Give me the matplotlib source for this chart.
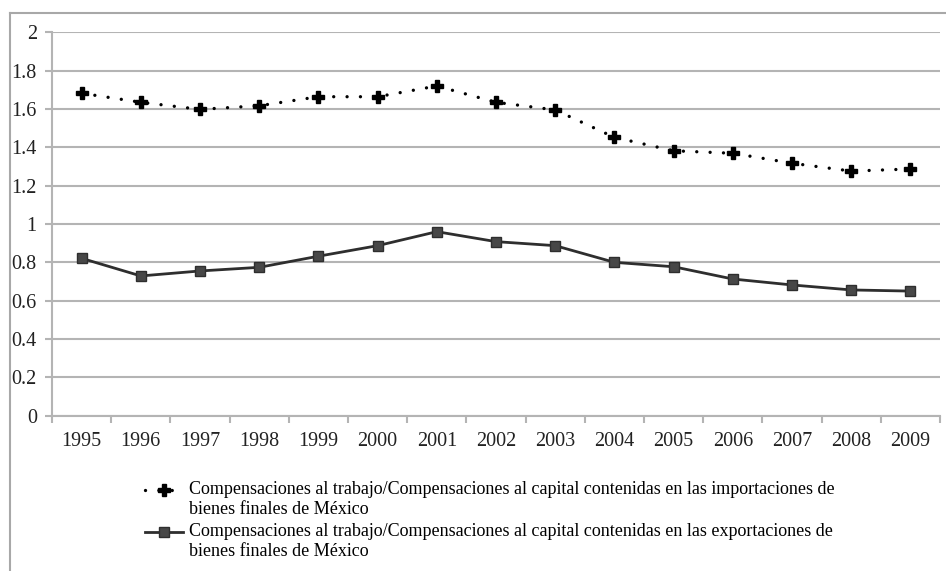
import numpy as np
import matplotlib
matplotlib.use('Agg')
import matplotlib.pyplot as plt
from matplotlib.lines import Line2D
from matplotlib.legend_handler import HandlerLine2D
from matplotlib.ticker import FixedLocator, FuncFormatter

plt.rcParams['font.family'] = ['Liberation Serif', 'DejaVu Serif']

# DATA ######################################################################
years = ['1995', '1996', '1997', '1998', '1999', '2000', '2001', '2002',
         '2003', '2004', '2005', '2006', '2007', '2008', '2009']
importaciones = [1.682, 1.635, 1.598, 1.617, 1.664, 1.664, 1.720, 1.635,
                 1.595, 1.452, 1.382, 1.369, 1.317, 1.276, 1.287]
exportaciones = [0.821, 0.729, 0.755, 0.774, 0.832, 0.887, 0.960, 0.908,
                 0.887, 0.800, 0.777, 0.713, 0.682, 0.656, 0.650]
lab_imp = ('Compensaciones al trabajo/Compensaciones al capital contenidas en las importaciones de\n'
           'bienes finales de México')
lab_exp = ('Compensaciones al trabajo/Compensaciones al capital contenidas en las exportaciones de\n'
           'bienes finales de México')


class FirstLineHandler(HandlerLine2D):
    # put the legend symbol level with the first line of a wrapped label
    def __init__(self, shift, **kw):
        super().__init__(**kw)
        self.shift = shift

    def create_artists(self, legend, orig_handle, xdescent, ydescent,
                       width, height, fontsize, trans):
        arts = super().create_artists(legend, orig_handle, xdescent, ydescent,
                                      width, height, fontsize, trans)
        for a in arts:
            a.set_ydata(np.asarray(a.get_ydata()) + self.shift * fontsize)
        return arts


# FIGURE ####################################################################
fig = plt.figure(figsize=(9.46, 5.71), dpi=100)
ax = fig.add_axes([0.055, 0.272, 0.9387, 0.6714])

x = np.arange(len(years))
grid_c = '#b4b4b4'

l1, = ax.plot(x, importaciones, color='black', lw=2.4, ls=(0, (0.01, 4.0)),
              dash_capstyle='round', marker='P', ms=8.5, mec='black',
              mfc='black', label=lab_imp)
l2, = ax.plot(x, exportaciones, color='#2e2e2e', lw=2, marker='s', ms=7,
              mfc='#474747', mec='#2e2e2e', label=lab_exp)

ax.set_xlim(-0.5, len(years) - 0.5)
ax.set_ylim(0, 2)
ax.set_yticks(np.arange(0, 2.01, 0.2))
ax.yaxis.set_major_formatter(FuncFormatter(lambda v, p: '%g' % round(v, 1)))
ax.yaxis.grid(True, color=grid_c, lw=1.5)
ax.set_axisbelow(True)

ax.set_xticks(x)
ax.set_xticklabels(years)
ax.xaxis.set_minor_locator(FixedLocator(np.arange(-0.5, len(years), 1.0)))
ax.tick_params(axis='x', which='major', length=0, pad=12, labelsize=14.5,
               labelcolor='#222222')
ax.tick_params(axis='x', which='minor', length=5, width=1.5, color=grid_c,
               direction='out')
ax.tick_params(axis='y', length=5, width=1.5, color=grid_c, pad=6,
               labelsize=14.5, labelcolor='#222222')

for s in ['top', 'right']:
    ax.spines[s].set_visible(False)
for s in ['left', 'bottom']:
    ax.spines[s].set_color(grid_c)
    ax.spines[s].set_linewidth(1.5)

# outer frame of the chart area
fig.add_artist(Line2D([10 / 946, 10 / 946], [0, 1 - 13 / 571],
                      transform=fig.transFigure, color='#a8a8a8', lw=1.5))
fig.add_artist(Line2D([10 / 946, 1], [1 - 13 / 571, 1 - 13 / 571],
                      transform=fig.transFigure, color='#a8a8a8', lw=1.5))

fig.legend(handles=[l1, l2], loc='upper left',
           bbox_to_anchor=(145 / 946, 0.1575), frameon=False,
           fontsize=13, handlelength=2.1, handletextpad=0.33,
           labelspacing=0.3, borderpad=0, borderaxespad=0,
           handler_map={Line2D: FirstLineHandler(0.55)})

fig.savefig('out.png', dpi=100)
